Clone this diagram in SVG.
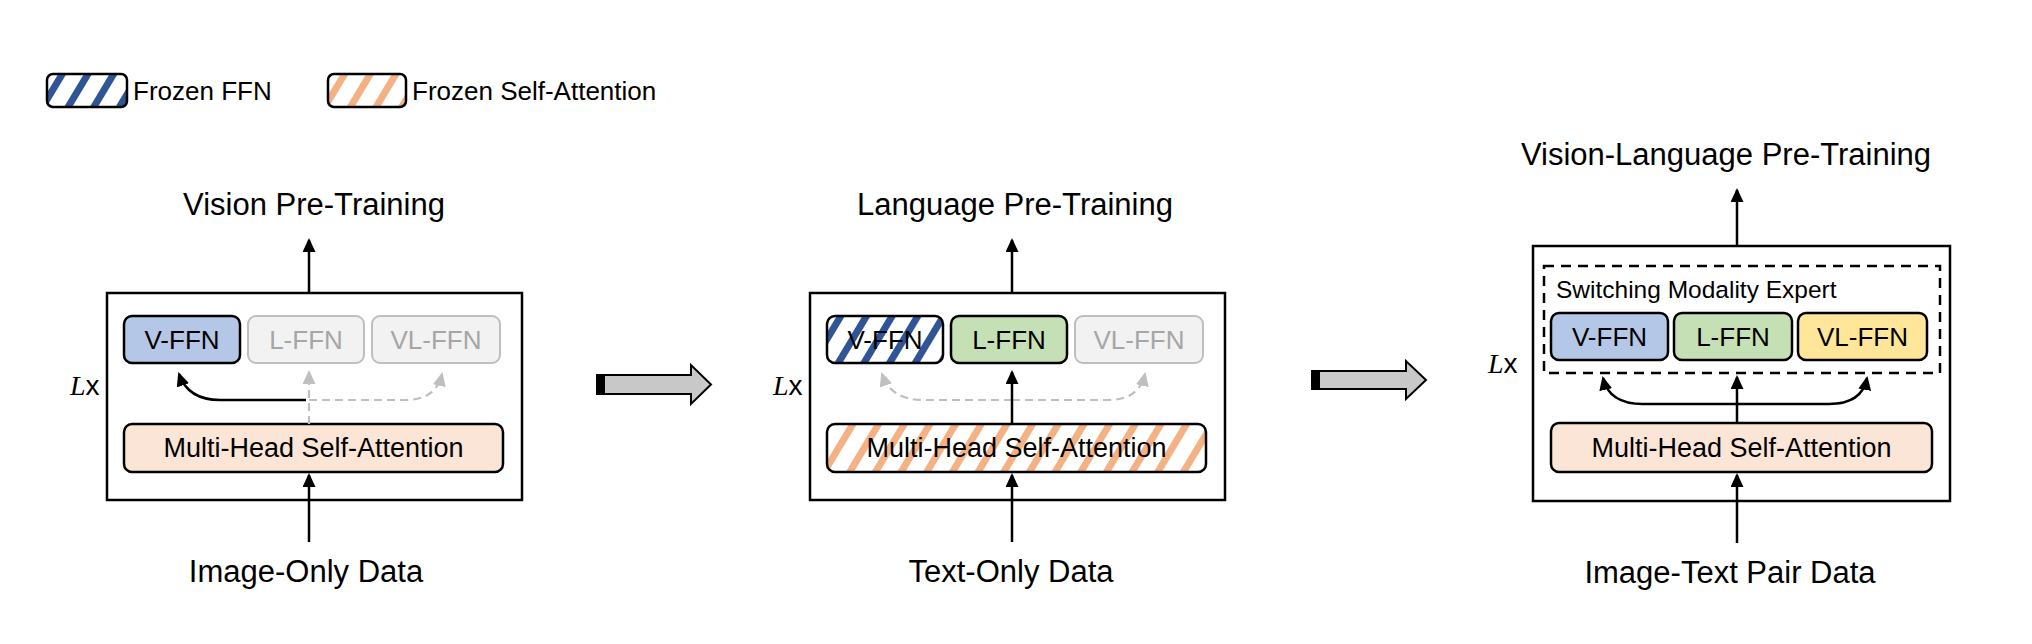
<svg xmlns="http://www.w3.org/2000/svg" width="2032" height="644" viewBox="0 0 2032 644">
<style>
text{font-family:"Liberation Sans",Arial,sans-serif;fill:#000}
.title{font-size:31px;text-anchor:middle}
.lbl{font-size:26px;text-anchor:middle}
.mh{font-size:27px;text-anchor:middle}
.leg{font-size:26px}
.gtxt{fill:#a6a6a6}
.outer{fill:#fff;stroke:#000;stroke-width:2.5}
.node{stroke:#000;stroke-width:2.5}
.gray{fill:#f2f2f2;stroke:#bfbfbf;stroke-width:2}
.v{fill:#b4c7e7}.l{fill:#c5e0b4}.vl{fill:#ffe699}.att{fill:#fbe5d6}
.hb{fill:url(#hatchB)}.ho{fill:url(#hatchO)}
.ar{fill:none;stroke:#000;stroke-width:2.5;marker-end:url(#ah)}
.gar{fill:none;stroke:#bfbfbf;stroke-width:2.2;stroke-dasharray:8 5;marker-end:url(#gah)}
.big{fill:#c8c8c8;stroke:#000;stroke-width:2}
.lx{font-size:28px}
</style>
<defs>
<marker id="ah" markerUnits="userSpaceOnUse" markerWidth="16" markerHeight="14" refX="12" refY="6.5" orient="auto"><path d="M0,0 L14,6.5 L0,13 Z" fill="#000"/></marker>
<marker id="gah" markerUnits="userSpaceOnUse" markerWidth="16" markerHeight="14" refX="12" refY="6.5" orient="auto"><path d="M0,0 L14,6.5 L0,13 Z" fill="#bfbfbf"/></marker>
<pattern id="hatchB" patternUnits="userSpaceOnUse" width="22" height="10" patternTransform="rotate(31)"><rect width="22" height="10" fill="#fff"/><rect width="7" height="10" fill="#2f5597"/></pattern>
<pattern id="hatchO" patternUnits="userSpaceOnUse" width="22" height="10" patternTransform="rotate(31)"><rect width="22" height="10" fill="#fff"/><rect width="7" height="10" fill="#f4b183"/></pattern>
</defs>

<g id="legend">
<rect x="47" y="74" width="80" height="33" rx="6" class="node hb"/>
<text x="133" y="100" class="leg">Frozen FFN</text>
<rect x="328" y="74" width="78" height="33" rx="6" class="node ho"/>
<text x="412" y="100" class="leg">Frozen Self-Attention</text>
</g>

<g id="panel1">
<rect x="107" y="293" width="415" height="207" class="outer"/>
<text x="70" y="395" class="lx"><tspan font-family="Liberation Serif,serif" font-style="italic">L</tspan>x</text>
<text x="314" y="215" class="title">Vision Pre-Training</text>
<text x="306" y="582" class="title">Image-Only Data</text>
</g>
<g id="p1-vffn"><rect x="124" y="316" width="116" height="47" rx="8" class="node v"/><text x="182" y="349" class="lbl">V-FFN</text></g>
<g id="p1-lffn"><rect x="248" y="316" width="116" height="47" rx="8" class="gray"/><text x="306" y="349" class="lbl gtxt">L-FFN</text></g>
<g id="p1-vlffn"><rect x="372" y="316" width="128" height="47" rx="8" class="gray"/><text x="436" y="349" class="lbl gtxt">VL-FFN</text></g>
<g id="p1-mhsa"><rect x="124" y="424" width="379" height="48" rx="8" class="node att"/><text x="313.5" y="457" class="mh">Multi-Head Self-Attention</text></g>

<g id="panel2">
<rect x="810" y="293" width="415" height="207" class="outer"/>
<text x="773" y="395" class="lx"><tspan font-family="Liberation Serif,serif" font-style="italic">L</tspan>x</text>
<text x="1015" y="215" class="title">Language Pre-Training</text>
<text x="1011" y="582" class="title">Text-Only Data</text>
</g>
<g id="p2-vffn"><rect x="827" y="316" width="116" height="47" rx="8" class="node hb"/><text x="885" y="349" class="lbl">V-FFN</text></g>
<g id="p2-lffn"><rect x="951" y="316" width="116" height="47" rx="8" class="node l"/><text x="1009" y="349" class="lbl">L-FFN</text></g>
<g id="p2-vlffn"><rect x="1075" y="316" width="128" height="47" rx="8" class="gray"/><text x="1139" y="349" class="lbl gtxt">VL-FFN</text></g>
<g id="p2-mhsa"><rect x="827" y="424" width="379" height="48" rx="8" class="node ho"/><text x="1016.5" y="457" class="mh">Multi-Head Self-Attention</text></g>

<g id="panel3">
<rect x="1533" y="246" width="417" height="255" class="outer"/>
<rect x="1544" y="266" width="396" height="107" fill="none" stroke="#000" stroke-width="2.5" stroke-dasharray="10 7"/>
<text x="1556" y="298" font-size="24.5">Switching Modality Expert</text>
<text x="1488" y="373" class="lx"><tspan font-family="Liberation Serif,serif" font-style="italic">L</tspan>x</text>
<text x="1726" y="165" class="title">Vision-Language Pre-Training</text>
<text x="1730" y="583" class="title">Image-Text Pair Data</text>
</g>
<g id="p3-vffn"><rect x="1551" y="313" width="117" height="47" rx="8" class="node v"/><text x="1609.5" y="346" class="lbl">V-FFN</text></g>
<g id="p3-lffn"><rect x="1674" y="313" width="118" height="47" rx="8" class="node l"/><text x="1733" y="346" class="lbl">L-FFN</text></g>
<g id="p3-vlffn"><rect x="1798" y="313" width="129" height="47" rx="8" class="node vl"/><text x="1862.5" y="346" class="lbl">VL-FFN</text></g>
<g id="p3-mhsa"><rect x="1551" y="423" width="381" height="49" rx="8" class="node att"/><text x="1741.5" y="457" class="mh">Multi-Head Self-Attention</text></g>

<g id="connectors">
<path d="M309,293 V240" class="ar"/>
<path d="M309,542 V475" class="ar"/>
<path d="M309,424 V372" class="gar"/>
<path d="M309,400 H405 Q436,400 442,374" class="gar"/>
<path d="M306,400 H220 Q188,400 179,374" class="ar"/>

<path d="M1012,293 V240" class="ar"/>
<path d="M1012,542 V475" class="ar"/>
<path d="M1012,400 H923 Q891,400 882,374" class="gar"/>
<path d="M1012,400 H1108 Q1139,400 1145,374" class="gar"/>
<path d="M1012,424 V372" class="ar"/>

<path d="M1737,246 V190" class="ar"/>
<path d="M1737,543 V475" class="ar"/>
<path d="M1737,423 V377" class="ar"/>
<path d="M1737,404 H1643 Q1609,404 1603,378" class="ar"/>
<path d="M1737,404 H1829 Q1862,404 1867,378" class="ar"/>

<path d="M597,375 H691 V365 L711,384.5 L691,404 V394 H597 Z" class="big"/>
<rect x="597" y="375" width="8" height="19" fill="#000"/>
<path d="M1312,371 H1406 V361 L1426,380 L1406,399 V389 H1312 Z" class="big"/>
<rect x="1312" y="371" width="8" height="18" fill="#000"/>
</g>
</svg>
